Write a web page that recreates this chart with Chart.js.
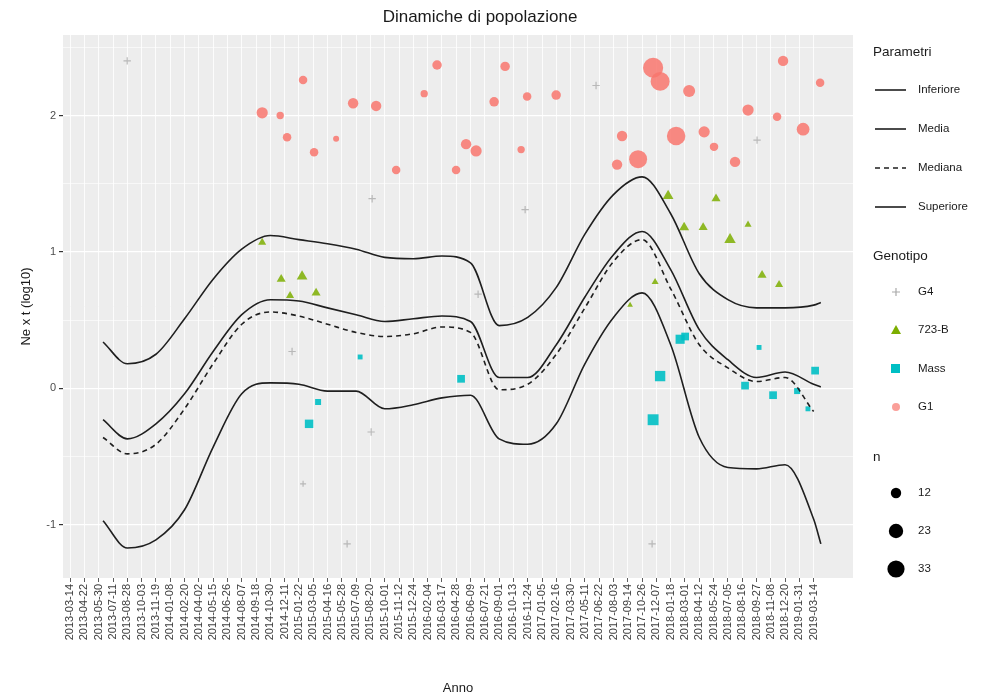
<!DOCTYPE html>
<html>
<head>
<meta charset="utf-8">
<script src="https://cdn.jsdelivr.net/npm/chart.js@4/dist/chart.umd.min.js"></script>
<style>
  body { margin: 0; background: #fff; font-family: "Liberation Sans", Arial, sans-serif; }
  #wrap { position: relative; width: 1001px; height: 699px; }
  #title { position: absolute; left: 330px; width: 300px; top: 7px; text-align: center; font-size: 17px; color: #1a1a1a; }
  #legend { position: absolute; left: 873px; top: 0; width: 128px; color: #1a1a1a; font-size: 11.5px; }
  .ttl { position: absolute; left: 0; font-size: 13.5px; }
  .item { position: absolute; left: 0; height: 20px; width: 128px; }
  .item svg { position: absolute; left: 0; top: 0; }
  .item span { position: absolute; left: 45px; top: 3px; }
</style>
</head>
<body>
<div id="wrap">
  <canvas id="myChart" width="1001" height="699"></canvas>
  <div id="title">Dinamiche di popolazione</div>
  <div id="legend"></div>
</div>
<script>
// date ticks of the x axis
var dateLabels = [
  "2013-03-14", "2013-04-22", "2013-05-30", "2013-07-11", "2013-08-28", "2013-10-03", "2013-11-19",
  "2014-01-08", "2014-02-20", "2014-04-02", "2014-05-15", "2014-06-26", "2014-08-07", "2014-09-18",
  "2014-10-30", "2014-12-11", "2015-01-22", "2015-03-05", "2015-04-16", "2015-05-28", "2015-07-09",
  "2015-08-20", "2015-10-01", "2015-11-12", "2015-12-24", "2016-02-04", "2016-03-17", "2016-04-28",
  "2016-06-09", "2016-07-21", "2016-09-01", "2016-10-13", "2016-11-24", "2017-01-05", "2017-02-16",
  "2017-03-30", "2017-05-11", "2017-06-22", "2017-08-03", "2017-09-14", "2017-10-26", "2017-12-07",
  "2018-01-18", "2018-03-01", "2018-04-12", "2018-05-24", "2018-07-05", "2018-08-16", "2018-09-27",
  "2018-11-08", "2018-12-20", "2019-01-31", "2019-03-14"
];
var yTicks = [-1, -0.5, 0, 0.5, 1, 1.5, 2, 2.5];

// smoothed parameter curves (x = position on the date axis)
var curveX = [2.3, 4, 6, 8, 10, 12, 14, 16, 18, 20, 22, 24, 26, 28, 30, 32, 34, 36, 38, 40, 42, 44, 46, 48, 50, 52, 52.5];
var inferiore = [-0.97, -1.17, -1.11, -0.89, -0.43, -0.04, 0.04, 0.03, -0.02, -0.02, -0.15, -0.12, -0.07, -0.05, -0.37, -0.41, -0.26, 0.18, 0.52, 0.70, 0.32, -0.36, -0.58, -0.59, -0.56, -0.96, -1.14];
var media = [-0.23, -0.37, -0.26, -0.04, 0.27, 0.54, 0.65, 0.64, 0.59, 0.54, 0.49, 0.51, 0.53, 0.49, 0.08, 0.08, 0.32, 0.67, 0.98, 1.15, 0.87, 0.43, 0.21, 0.08, 0.12, 0.03, 0.01];
var mediana = [-0.36, -0.48, -0.41, -0.15, 0.18, 0.47, 0.56, 0.53, 0.47, 0.41, 0.38, 0.40, 0.45, 0.41, -0.01, 0.03, 0.25, 0.59, 0.93, 1.09, 0.73, 0.32, 0.15, 0.05, 0.08, -0.17, null];
var superiore = [0.34, 0.18, 0.25, 0.51, 0.80, 1.02, 1.12, 1.09, 1.06, 1.02, 0.96, 0.95, 0.97, 0.92, 0.46, 0.52, 0.74, 1.13, 1.42, 1.55, 1.28, 0.84, 0.65, 0.59, 0.59, 0.61, 0.63];

// observations per genotype
var g4X = [3.99, 15.52, 16.29, 19.37, 21.05, 21.12, 28.53, 31.82, 36.78, 40.7, 48.04];
var g4Y = [2.40, 0.27, -0.70, -1.14, -0.32, 1.39, 0.69, 1.31, 2.22, -1.14, 1.82];
var g4N = [6, 6, 4, 6, 6, 6, 6, 6, 6, 6, 6];

var b723X = [13.43, 14.76, 15.38, 16.22, 17.2, 39.16, 40.91, 41.82, 42.94, 44.27, 45.17, 46.15, 47.41, 48.39, 49.58];
var b723Y = [1.07, 0.80, 0.68, 0.82, 0.70, 0.61, 0.78, 1.41, 1.18, 1.18, 1.39, 1.09, 1.20, 0.83, 0.76];
var b723N = [8, 10, 8, 14, 10, 4, 6, 14, 12, 10, 10, 16, 6, 10, 8];

var massX = [16.71, 17.34, 20.28, 27.34, 40.77, 41.26, 42.66, 43.01, 47.2, 48.18, 49.16, 50.84, 51.6, 52.1];
var massY = [-0.26, -0.10, 0.23, 0.07, -0.23, 0.09, 0.36, 0.38, 0.02, 0.30, -0.05, -0.02, -0.15, 0.13];
var massN = [12, 6, 4, 10, 20, 18, 14, 10, 10, 4, 10, 6, 4, 10];

var g1X = [13.43, 14.69, 15.17, 16.29, 17.06, 18.6, 19.79, 21.4, 22.8, 24.76, 25.66, 26.99, 27.69, 28.39, 29.65, 30.42, 31.54, 31.96, 33.99, 38.25, 38.6, 39.72, 40.77, 41.26, 42.38, 43.29, 44.34, 45.03, 46.5, 47.41, 49.44, 49.86, 51.26, 52.45];
var g1Y = [2.02, 2.00, 1.84, 2.26, 1.73, 1.83, 2.09, 2.07, 1.60, 2.16, 2.37, 1.60, 1.79, 1.74, 2.10, 2.36, 1.75, 2.14, 2.15, 1.64, 1.85, 1.68, 2.35, 2.25, 1.85, 2.18, 1.88, 1.77, 1.66, 2.04, 1.99, 2.40, 1.90, 2.24];
var g1N = [14, 6, 8, 8, 8, 4, 12, 12, 8, 6, 10, 8, 12, 14, 10, 10, 6, 8, 10, 12, 12, 36, 45, 40, 38, 16, 14, 8, 12, 14, 8, 12, 18, 8];

var sizeLegend = [12, 23, 33];

toPoints = (xs, ys, ns) => xs.map((x, i) => ({ x: x, y: ys[i], n: ns ? ns[i] : 0 }));
sizeOf = (n) => Math.sqrt(n) * 1.5;

var lineStyle = {
  borderColor: "#1f1f1f",
  borderWidth: 1.6,
  pointRadius: 0,
  showLine: true,
  cubicInterpolationMode: "monotone",
  spanGaps: false,
};

var datasets = [
  Object.assign({ label: "Inferiore", data: toPoints(curveX, inferiore) }, lineStyle),
  Object.assign({ label: "Media", data: toPoints(curveX, media) }, lineStyle),
  Object.assign({ label: "Mediana", data: toPoints(curveX, mediana), borderDash: [5, 4] }, lineStyle),
  Object.assign({ label: "Superiore", data: toPoints(curveX, superiore) }, lineStyle),
  {
    label: "G4", data: toPoints(g4X, g4Y, g4N), pointStyle: "cross",
    borderColor: "rgba(170,170,170,0.8)", backgroundColor: "rgba(170,170,170,0.8)", borderWidth: 1.2,
    pointRadius: (c) => sizeOf(c.raw.n),
  },
  {
    label: "723-B", data: toPoints(b723X, b723Y, b723N), pointStyle: "triangle",
    backgroundColor: "rgba(124,174,0,0.85)", borderWidth: 0,
    pointRadius: (c) => sizeOf(c.raw.n) * 1.1,
  },
  {
    label: "Mass", data: toPoints(massX, massY, massN), pointStyle: "rect",
    backgroundColor: "rgba(0,191,196,0.9)", borderWidth: 0,
    pointRadius: (c) => sizeOf(c.raw.n) * 1.15,
  },
  {
    label: "G1", data: toPoints(g1X, g1Y, g1N), pointStyle: "circle",
    backgroundColor: "rgba(248,118,109,0.85)", borderWidth: 0,
    pointRadius: (c) => sizeOf(c.raw.n),
  },
];

var panelBg = {
  id: "panelBg",
  beforeDraw(chart) {
    const { ctx, chartArea: a } = chart;
    ctx.save();
    ctx.fillStyle = "#EDEDED";
    ctx.fillRect(a.left, a.top, a.width, a.height);
    ctx.restore();
  },
};

createChart = () => {
  const ctx = document.getElementById("myChart").getContext("2d");
  new Chart(ctx, {
    type: "scatter",
    data: { datasets: datasets },
    plugins: [panelBg],
    options: {
      responsive: false,
      animation: false,
      layout: { padding: { left: 0, right: 148, top: 35, bottom: 0 } },
      plugins: {
        legend: { display: false },
        tooltip: { enabled: false },
      },
      scales: {
        x: {
          type: "linear",
          min: -0.5,
          max: 54.75,
          afterBuildTicks: (s) => { s.ticks = dateLabels.map((d, i) => ({ value: i })); },
          afterFit: (s) => { s.height = 121; },
          ticks: {
            autoSkip: false,
            minRotation: 90,
            maxRotation: 90,
            padding: 2,
            color: "#3d3d3d",
            font: { family: "Liberation Sans", size: 11 },
            callback: (v) => dateLabels[v],
          },
          grid: { color: "#ffffff", lineWidth: 0.8, tickColor: "#333333", tickLength: 4 },
          border: { display: false },
          title: {
            display: true,
            text: "Anno",
            color: "#1a1a1a",
            font: { family: "Liberation Sans", size: 13 },
            padding: { top: 0, bottom: 3 },
          },
        },
        y: {
          min: -1.39,
          max: 2.59,
          afterBuildTicks: (s) => { s.ticks = yTicks.map((v) => ({ value: v })); },
          afterFit: (s) => { s.width = 63; },
          ticks: {
            color: "#4d4d4d",
            padding: 3,
            font: { family: "Liberation Sans", size: 11 },
            callback: (v) => (Number.isInteger(v) ? String(v) : ""),
          },
          grid: {
            color: "#ffffff",
            lineWidth: (c) => (Number.isInteger(c.tick.value) ? 1.2 : 0.6),
            tickColor: (c) => (Number.isInteger(c.tick.value) ? "#333333" : "rgba(0,0,0,0)"),
            tickLength: 4,
          },
          border: { display: false },
          title: {
            display: true,
            text: "Ne x t (log10)",
            color: "#1a1a1a",
            font: { family: "Liberation Sans", size: 13 },
            padding: { top: 19, bottom: 0 },
          },
        },
      },
    },
  });
};

// legend on the right, ggplot style
buildLegend = () => {
  const box = document.getElementById("legend");
  let html = "";
  const lineItems = [
    ["Inferiore", 90, ""], ["Media", 129, ""], ["Mediana", 168, "5,4"], ["Superiore", 207, ""],
  ];
  html += '<div class="ttl" style="top:44px">Parametri</div>';
  lineItems.forEach((it) => {
    html += '<div class="item" style="top:' + (it[1] - 10) + 'px"><svg width="40" height="20">' +
      '<line x1="2" y1="10" x2="33" y2="10" stroke="#1f1f1f" stroke-width="1.6"' +
      (it[2] ? ' stroke-dasharray="' + it[2] + '"' : "") + "/></svg><span>" + it[0] + "</span></div>";
  });
  html += '<div class="ttl" style="top:248px">Genotipo</div>';
  const shapes = [
    ["G4", 292, '<path d="M23 6 V14 M19 10 H27" stroke="#aaa" stroke-width="1.2"/>'],
    ["723-B", 330, '<path d="M23 5 L28 14 L18 14 Z" fill="#7CAE00"/>'],
    ["Mass", 369, '<rect x="18" y="5" width="9" height="9" fill="#00BFC4"/>'],
    ["G1", 407, '<circle cx="23" cy="10" r="4" fill="#F8766D" opacity="0.7"/>'],
  ];
  shapes.forEach((s) => {
    html += '<div class="item" style="top:' + (s[1] - 10) + 'px"><svg width="40" height="20">' +
      s[2] + "</svg><span>" + s[0] + "</span></div>";
  });
  html += '<div class="ttl" style="top:449px">n</div>';
  const sizeY = [493, 531, 569];
  sizeLegend.forEach((n, i) => {
    html += '<div class="item" style="top:' + (sizeY[i] - 10) + 'px"><svg width="40" height="20">' +
      '<circle cx="23" cy="10" r="' + sizeOf(n).toFixed(1) + '" fill="#000"/></svg><span>' + n + "</span></div>";
  });
  box.innerHTML = html;
};

createChart();
buildLegend();
</script>
</body>
</html>
